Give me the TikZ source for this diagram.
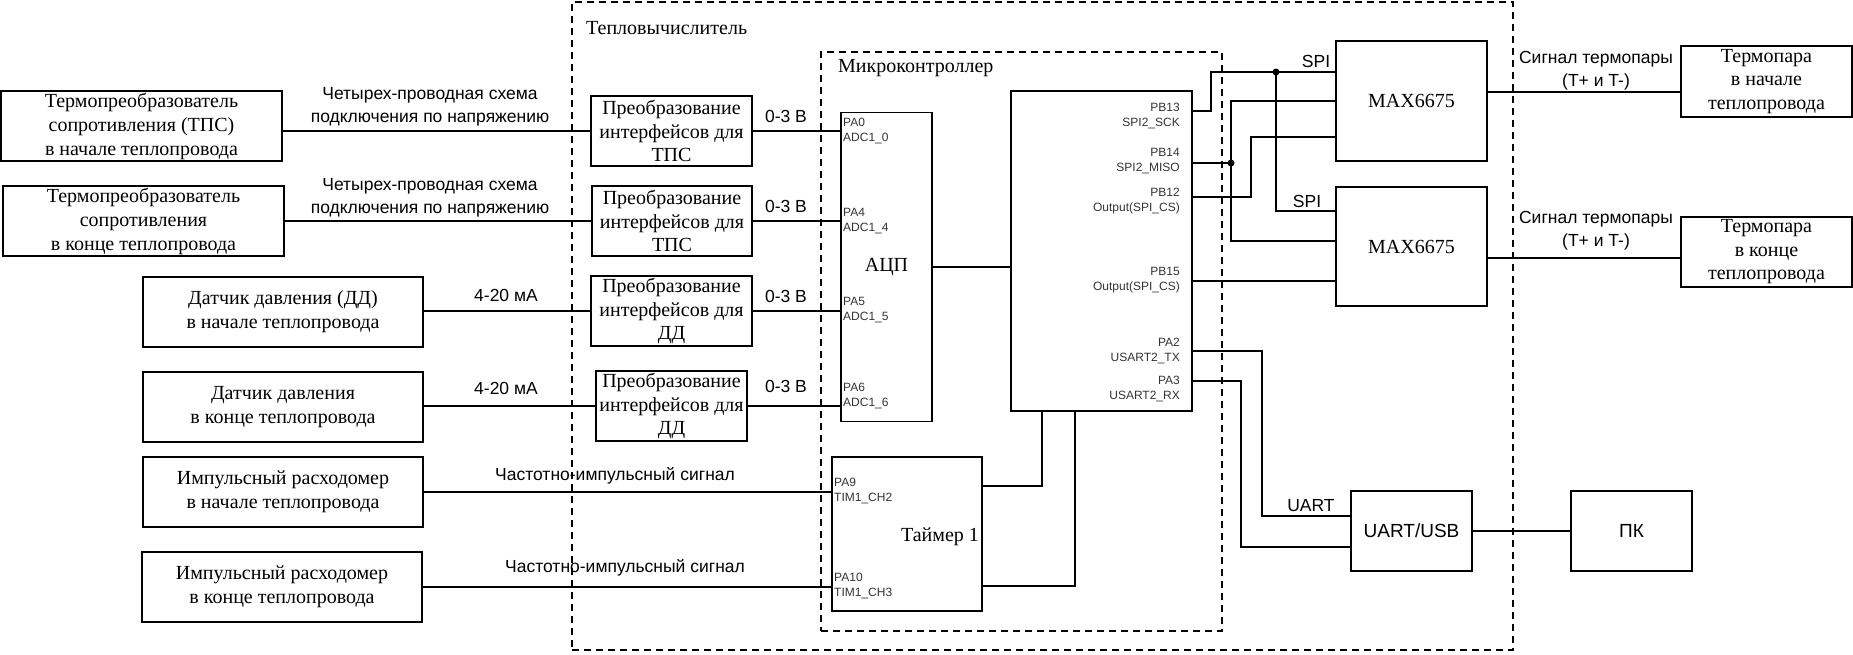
\documentclass[tikz,border=0pt]{standalone}
\usepackage{fontspec}
\setmainfont{Liberation Serif}
\setsansfont{Liberation Sans}
\begin{document}
\begin{tikzpicture}[x=1pt,y=-1pt,
  box/.style={draw, line width=1.8pt, inner sep=0pt, align=center,
              font=\fontsize{20}{24}\selectfont},
  wire/.style={line width=1.8pt},
  frame/.style={draw, line width=1.6pt, dash pattern=on 7pt off 5pt},
  lbl/.style={font=\sffamily\fontsize{17.5}{23}\selectfont, align=center, inner sep=0pt},
  pin/.style={font=\sffamily\fontsize{12}{15}\selectfont, inner sep=0pt, text=black!80},
  heading/.style={font=\fontsize{20}{24}\selectfont, inner sep=0pt, anchor=west},
  jdot/.style={circle, fill, inner sep=0pt, minimum size=7pt}
]
\useasboundingbox (0,0) rectangle (1853,654);

% enclosures
\node[frame, minimum width=941pt, minimum height=648pt] (calc) at (1042.5,326) {};
\node[frame, minimum width=401pt, minimum height=579pt] (mcu) at (1021.5,341.5) {};
\node[heading] (calcT) at (586,28) {Тепловычислитель};
\node[heading] (mcuT) at (838,68) {Микроконтроллер};

% sensors
\node[box, minimum width=281pt, minimum height=70pt] (tps1) at (141.5,126)
  {Термопреобразователь\\сопротивления (ТПС)\\в начале теплопровода};
\node[box, minimum width=281pt, minimum height=70pt] (tps2) at (143.5,221)
  {Термопреобразователь\\сопротивления\\в конце теплопровода};
\node[box, minimum width=280pt, minimum height=70pt] (dd1) at (283,312)
  {Датчик давления (ДД)\\в начале теплопровода};
\node[box, minimum width=280pt, minimum height=70pt] (dd2) at (283,407)
  {Датчик давления\\в конце теплопровода};
\node[box, minimum width=280pt, minimum height=70pt] (fm1) at (283,492)
  {Импульсный расходомер\\в начале теплопровода};
\node[box, minimum width=280pt, minimum height=70pt] (fm2) at (282,587)
  {Импульсный расходомер\\в конце теплопровода};

% interface converters
\node[box, font=\fontsize{20}{23.5}\selectfont, minimum width=161pt, minimum height=70pt] (conv1) at (671.5,131)
  {Преобразование\\интерфейсов для\\ТПС};
\node[box, font=\fontsize{20}{23.5}\selectfont, minimum width=160pt, minimum height=70pt] (conv2) at (672,221)
  {Преобразование\\интерфейсов для\\ТПС};
\node[box, font=\fontsize{20}{23.5}\selectfont, minimum width=161pt, minimum height=70pt] (conv3) at (671.5,311)
  {Преобразование\\интерфейсов для\\ДД};
\node[box, font=\fontsize{20}{23.5}\selectfont, minimum width=151pt, minimum height=70pt] (conv4) at (671.5,406)
  {Преобразование\\интерфейсов для\\ДД};

% microcontroller blocks
\node[box, minimum width=91pt, minimum height=309pt] (adc) at (886.5,267) {АЦП};
\node[box, minimum width=181pt, minimum height=320pt] (core) at (1101.5,251) {};
\node[box, minimum width=150pt, minimum height=154pt] (timer) at (907,534) {};
\node[inner sep=0pt, font=\fontsize{20}{24}\selectfont] (timerT) at (940,537) {Таймер 1};

% peripherals
\node[box, minimum width=151pt, minimum height=120pt] (max1) at (1411.5,101) {MAX6675};
\node[box, minimum width=151pt, minimum height=119pt] (max2) at (1411.5,246.5) {MAX6675};
\node[box, font=\fontsize{20}{23.5}\selectfont, minimum width=171pt, minimum height=71pt] (tc1) at (1766.5,81.5)
  {Термопара\\в начале\\теплопровода};
\node[box, font=\fontsize{20}{23.5}\selectfont, minimum width=171pt, minimum height=70pt] (tc2) at (1766.5,252)
  {Термопара\\в конце\\теплопровода};
\node[box, font=\sffamily\fontsize{19}{23}\selectfont, minimum width=121pt, minimum height=80pt] (uart) at (1411.5,531) {UART/USB};
\node[box, font=\sffamily\fontsize{19}{23}\selectfont, minimum width=121pt, minimum height=80pt] (pc) at (1631.5,531) {ПК};

% pin labels
\node[pin, anchor=west, align=left] (pa0) at (843,131) {PA0\\ADC1\_0};
\node[pin, anchor=west, align=left] (pa4) at (843,221) {PA4\\ADC1\_4};
\node[pin, anchor=west, align=left] (pa5) at (843,310.5) {PA5\\ADC1\_5};
\node[pin, anchor=west, align=left] (pa6) at (843,395.5) {PA6\\ADC1\_6};
\node[pin, anchor=west, align=left] (pa9) at (834,491) {PA9\\TIM1\_CH2};
\node[pin, anchor=west, align=left] (pa10) at (834,586) {PA10\\TIM1\_CH3};
\node[pin, anchor=east, align=right] (pb13) at (1180,115.5) {PB13\\SPI2\_SCK};
\node[pin, anchor=east, align=right] (pb14) at (1180,161) {PB14\\SPI2\_MISO};
\node[pin, anchor=east, align=right] (pb12) at (1180,201) {PB12\\Output(SPI\_CS)};
\node[pin, anchor=east, align=right] (pb15) at (1180,280.5) {PB15\\Output(SPI\_CS)};
\node[pin, anchor=east, align=right] (pa2) at (1180,350.5) {PA2\\USART2\_TX};
\node[pin, anchor=east, align=right] (pa3) at (1180,389) {PA3\\USART2\_RX};

% sensors to converters
\draw[wire] (conv1.west -| tps1.east) -- (conv1.west);
\draw[wire] (conv2.west -| tps2.east) -- (conv2.west);
\draw[wire] (dd1.east |- conv3.west) -- (conv3.west);
\draw[wire] (conv4.west -| dd2.east) -- (conv4.west);
% converters to ADC
\draw[wire] (conv1.east) -- (conv1.east -| adc.west);
\draw[wire] (conv2.east) -- (conv2.east -| adc.west);
\draw[wire] (conv3.east) -- (conv3.east -| adc.west);
\draw[wire] (conv4.east) -- (conv4.east -| adc.west);
% flowmeters to timer
\draw[wire] (fm1.east) -- (fm1.east -| timer.west);
\draw[wire] (fm2.east) -- (fm2.east -| timer.west);
% internal buses
\draw[wire] (adc.east) -- (adc.east -| core.west);
\draw[wire] (timer.east |- 0,486) -| (core.south -| 1042,0);
\draw[wire] (timer.east |- 0,586) -| (core.south -| 1075,0);

% SPI bus
\node[jdot] (sck) at (1276,72) {};
\node[jdot] (miso) at (1231,163) {};
\draw[wire] (core.east |- 0,111) -- (1211,111) |- (max1.west |- 0,72);
\draw[wire] (sck.center) |- (max2.west |- 0,211);
\draw[wire] (core.east |- 0,163) -- (miso.center);
\draw[wire] (max1.west |- 0,101) -| (miso.center) |- (max2.west |- 0,241);
\draw[wire] (core.east |- 0,197) -| (1251,137) -- (max1.west |- 0,137);
\draw[wire] (core.east |- 0,281) -- (max2.west |- 0,281);

% UART link
\draw[wire] (core.east |- 0,351) -| (1262,516) -- (uart.west |- 0,516);
\draw[wire] (core.east |- 0,381) -| (1241,547) -- (uart.west |- 0,547);
\draw[wire] (uart.east) -- (pc.west);

% thermocouples
\draw[wire] (max1.east |- 0,92) -- (tc1.west |- 0,92);
\draw[wire] (max2.east |- 0,258) -- (tc2.west |- 0,258);

% signal labels
\node[lbl] (l1) at (430,107) {Четырех-проводная схема\\подключения по напряжению};
\node[lbl] (l2) at (430,198) {Четырех-проводная схема\\подключения по напряжению};
\node[lbl] (l3) at (506,295) {4-20 мА};
\node[lbl] (l4) at (506,388) {4-20 мА};
\node[lbl] (l5) at (615,476) {Частотно-импульсный сигнал};
\node[lbl] (l6) at (625,568) {Частотно-импульсный сигнал};
\node[lbl] (v1) at (786,116) {0-3 В};
\node[lbl] (v2) at (786,206) {0-3 В};
\node[lbl] (v3) at (786,296) {0-3 В};
\node[lbl] (v4) at (786,386) {0-3 В};
\node[lbl] (spi1) at (1316,61) {SPI};
\node[lbl] (spi2) at (1307,201) {SPI};
\node[lbl] (uartL) at (1311,506) {UART};
\node[lbl] (ts1) at (1596,71) {Сигнал термопары\\(T+ и T-)};
\node[lbl] (ts2) at (1596,231) {Сигнал термопары\\(T+ и T-)};
\end{tikzpicture}
\end{document}
